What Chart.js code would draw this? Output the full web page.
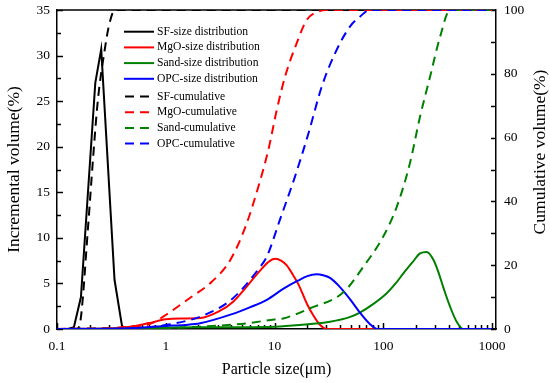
<!DOCTYPE html>
<html>
<head>
<meta charset="utf-8">
<script src="https://cdn.jsdelivr.net/npm/chart.js@4.4.1/dist/chart.umd.min.js"></script>
<style>
  body { margin: 0; background: #fff; }
  canvas { display: block; }
</style>
</head>
<body>
<canvas id="psd" width="550" height="383"></canvas>
<script>
// particle size (um) / value pairs

const sfDistX = [0.1, 0.126, 0.143, 0.166, 0.225, 0.255, 0.338, 0.40, 1000]
const sfDistY = [0, 0, 0.2, 3.5, 27, 30.7, 5.4, 0, 0]

const mgoDistX = [0.1, 0.3, 0.5, 0.7, 1.0, 1.42, 2.07, 3.05, 4.17, 5.5, 7.36, 9.0, 10.2, 11.5, 12.9, 14.5, 16.6, 19.8, 22.7, 26, 30.4, 1000]
const mgoDistY = [0, 0.05, 0.3, 0.65, 1.06, 1.15, 1.2, 1.9, 3.0, 4.6, 6.4, 7.45, 7.7, 7.5, 7.0, 6.1, 4.9, 2.8, 1.5, 0.5, 0, 0]

const sandDistX = [0.1, 0.5, 1, 2, 5, 10, 17, 32.4, 49, 61, 80, 107, 130, 153, 185, 218, 251, 289, 320, 356, 410, 473, 545, 1000]
const sandDistY = [0, 0.05, 0.15, 0.2, 0.2, 0.25, 0.44, 0.8, 1.3, 1.8, 2.7, 3.9, 5.0, 6.1, 7.3, 8.3, 8.45, 7.6, 6.3, 4.6, 2.5, 0.8, 0, 0]

const opcDistX = [0.1, 0.5, 1.0, 1.5, 2.07, 4.0, 6.0, 8.5, 12, 16.4, 20, 24.4, 28, 32.4, 40, 50, 61, 76, 88, 1000]
const opcDistY = [0, 0.1, 0.33, 0.45, 0.63, 1.6, 2.4, 3.2, 4.4, 5.3, 5.8, 6.0, 5.9, 5.6, 4.6, 3.2, 1.8, 0.5, 0, 0]

const sfCumX = [0.1, 0.152, 0.165, 0.193, 0.214, 0.238, 0.276, 0.30, 0.34, 1000]
const sfCumY = [0, 0, 3, 32, 53, 72, 88, 95, 100, 100]

const mgoCumX = [0.1, 0.3, 0.5, 0.72, 1.0, 1.63, 2.65, 3.9, 5.4, 7.1, 8.77, 10.5, 12.5, 16, 19.8, 25.3, 30, 1000]
const mgoCumY = [0, 0.3, 0.8, 1.6, 4.4, 9.5, 14.8, 21.5, 32, 44.6, 56.1, 68.7, 79.1, 89.6, 96.9, 99.5, 100, 100]

const sandCumX = [0.1, 1, 2, 5, 10, 12, 21.2, 43, 65.6, 100, 133, 176, 218, 269, 333, 411, 1000]
const sandCumY = [0, 0.3, 0.7, 1.6, 3.0, 3.3, 6.5, 11.5, 19.5, 29, 38.3, 52, 66.6, 79, 91.6, 100, 100]

const opcCumX = [0.1, 0.3, 0.6, 1.0, 2.2, 4.1, 7.2, 8.5, 11.2, 15.4, 20.5, 27.2, 36, 49.4, 61, 75, 1000]
const opcCumY = [0, 0.1, 0.4, 1.25, 4.2, 9.5, 19, 22.7, 34.2, 47.7, 61.3, 76, 86.4, 94.8, 97.9, 100, 100]

const xTicks = [0.1, 1, 10, 100, 1000]

Chart.defaults.font.family = "'Liberation Serif', 'Times New Roman', serif"
Chart.defaults.color = '#000'

function pts(xs, ys) {
  return xs.map((x, i) => ({ x: x, y: ys[i] }))
}

function series(label, xs, ys, color, dashed, axis, smooth, idx) {
  return {
    label: label,
    data: pts(xs, ys),
    borderColor: color,
    backgroundColor: color,
    borderWidth: 2,
    borderDash: dashed ? [9, 6] : [],
    pointRadius: 0,
    tension: smooth ? 0.4 : 0,
    cubicInterpolationMode: smooth ? 'monotone' : 'default',
    yAxisID: axis,
    order: -idx
  }
}

const datasets = [
  series('SF-size distribution', sfDistX, sfDistY, '#000000', false, 'y', false, 0),
  series('MgO-size distribution', mgoDistX, mgoDistY, '#ff0000', false, 'y', true, 1),
  series('Sand-size distribution', sandDistX, sandDistY, '#008000', false, 'y', true, 2),
  series('OPC-size distribution', opcDistX, opcDistY, '#0000ff', false, 'y', true, 3),
  series('SF-cumulative', sfCumX, sfCumY, '#000000', true, 'y2', true, 4),
  series('MgO-cumulative', mgoCumX, mgoCumY, '#ff0000', true, 'y2', true, 5),
  series('Sand-cumulative', sandCumX, sandCumY, '#008000', true, 'y2', true, 6),
  series('OPC-cumulative', opcCumX, opcCumY, '#0000ff', true, 'y2', true, 7)
]

function noPad(s) {
  s.paddingTop = 0
  s.paddingBottom = 0
  s.paddingLeft = 0
  s.paddingRight = 0
}

// top frame line and inward ticks
const frame = {
  id: 'frame',
  beforeDatasetsDraw(chart) {
    const { ctx, chartArea: a, scales } = chart
    ctx.save()
    ctx.strokeStyle = '#000'
    ctx.lineWidth = 1.5
    ctx.beginPath()
    ctx.moveTo(a.left, a.top)
    ctx.lineTo(a.right, a.top)
    for (let d = 0.1; d < 2000; d *= 10) {
      for (let k = 1; k <= 9; k++) {
        const v = k * d
        if (v > 1001) break
        const px = Math.round(scales.x.getPixelForValue(v)) + 0.5
        const len = k === 1 ? 6 : 4
        ctx.moveTo(px, a.bottom)
        ctx.lineTo(px, a.bottom - len)
      }
    }
    for (let v = 0; v <= 35; v += 2.5) {
      const py = Math.round(scales.y.getPixelForValue(v)) + 0.5
      ctx.moveTo(a.left, py)
      ctx.lineTo(a.left + (v % 5 === 0 ? 6 : 4), py)
    }
    for (let v = 0; v <= 100; v += 10) {
      const py = Math.round(scales.y2.getPixelForValue(v)) + 0.5
      ctx.moveTo(a.right, py)
      ctx.lineTo(a.right - 5, py)
    }
    ctx.stroke()
    ctx.restore()
  },
  afterDraw(chart) {
    const ctx = chart.ctx
    ctx.save()
    ctx.fillStyle = '#000'
    ctx.font = "17.5px 'Liberation Serif'"
    ctx.textAlign = 'center'
    ctx.textBaseline = 'middle'
    ctx.translate(540, 152)
    ctx.rotate(-Math.PI / 2)
    ctx.fillText('Cumulative volume(%)', 0, 0)
    ctx.restore()

    // legend inside the plot
    ctx.save()
    ctx.font = "11.6px 'Liberation Serif'"
    ctx.textBaseline = 'middle'
    chart.data.datasets.forEach((ds, i) => {
      const y = 31.7 + i * 15.7 + (i >= 4 ? 2 : 0)
      ctx.strokeStyle = ds.borderColor
      ctx.lineWidth = 2
      ctx.setLineDash(ds.borderDash)
      ctx.beginPath()
      if (ds.borderDash.length) {
        ctx.moveTo(125, y)
        ctx.lineTo(150, y)
      } else {
        ctx.moveTo(124, y)
        ctx.lineTo(154, y)
      }
      ctx.stroke()
      ctx.setLineDash([])
      ctx.fillStyle = '#000'
      ctx.fillText(ds.label, 157, y)
    })
    ctx.restore()
  }
}

new Chart(document.getElementById('psd'), {
  type: 'line',
  data: { datasets: datasets },
  plugins: [frame],
  options: {
    responsive: false,
    animation: false,
    devicePixelRatio: 1,
    layout: { padding: { top: 10, left: 0, right: 0, bottom: 0 } },
    plugins: {
      legend: { display: false },
      tooltip: { enabled: false }
    },
    scales: {
      x: {
        type: 'logarithmic',
        min: 0.1,
        max: 1088,
        grid: { display: false, drawTicks: false },
        border: { display: true, color: '#000', width: 1.5 },
        afterBuildTicks: (s) => { s.ticks = xTicks.map(v => ({ value: v })) },
        afterFit: (s) => { s.height = 54; noPad(s) },
        ticks: {
          autoSkip: false,
          maxRotation: 0,
          padding: 9,
          font: { size: 13.5 },
          callback: (v) => String(v)
        },
        title: {
          display: true,
          text: 'Particle size(\u03bcm)',
          font: { size: 16 },
          padding: { top: 0, bottom: 3.5 }
        }
      },
      y: {
        position: 'left',
        min: 0,
        max: 35,
        grid: { display: false, drawTicks: false },
        border: { display: true, color: '#000', width: 1.5 },
        afterFit: (s) => { s.width = 57; noPad(s) },
        ticks: { stepSize: 5, padding: 7, font: { size: 13.5 } },
        title: {
          display: true,
          text: 'Incremental volume(%)',
          font: { size: 17.5 },
          padding: { top: 4.4, bottom: 0 }
        }
      },
      y2: {
        position: 'right',
        min: 0,
        max: 100,
        grid: { display: false, drawTicks: false },
        border: { display: true, color: '#000', width: 1.5 },
        afterFit: (s) => { s.width = 54; noPad(s) },
        ticks: { stepSize: 20, padding: 8, font: { size: 13.5 } }
      }
    }
  }
})
</script>
</body>
</html>
